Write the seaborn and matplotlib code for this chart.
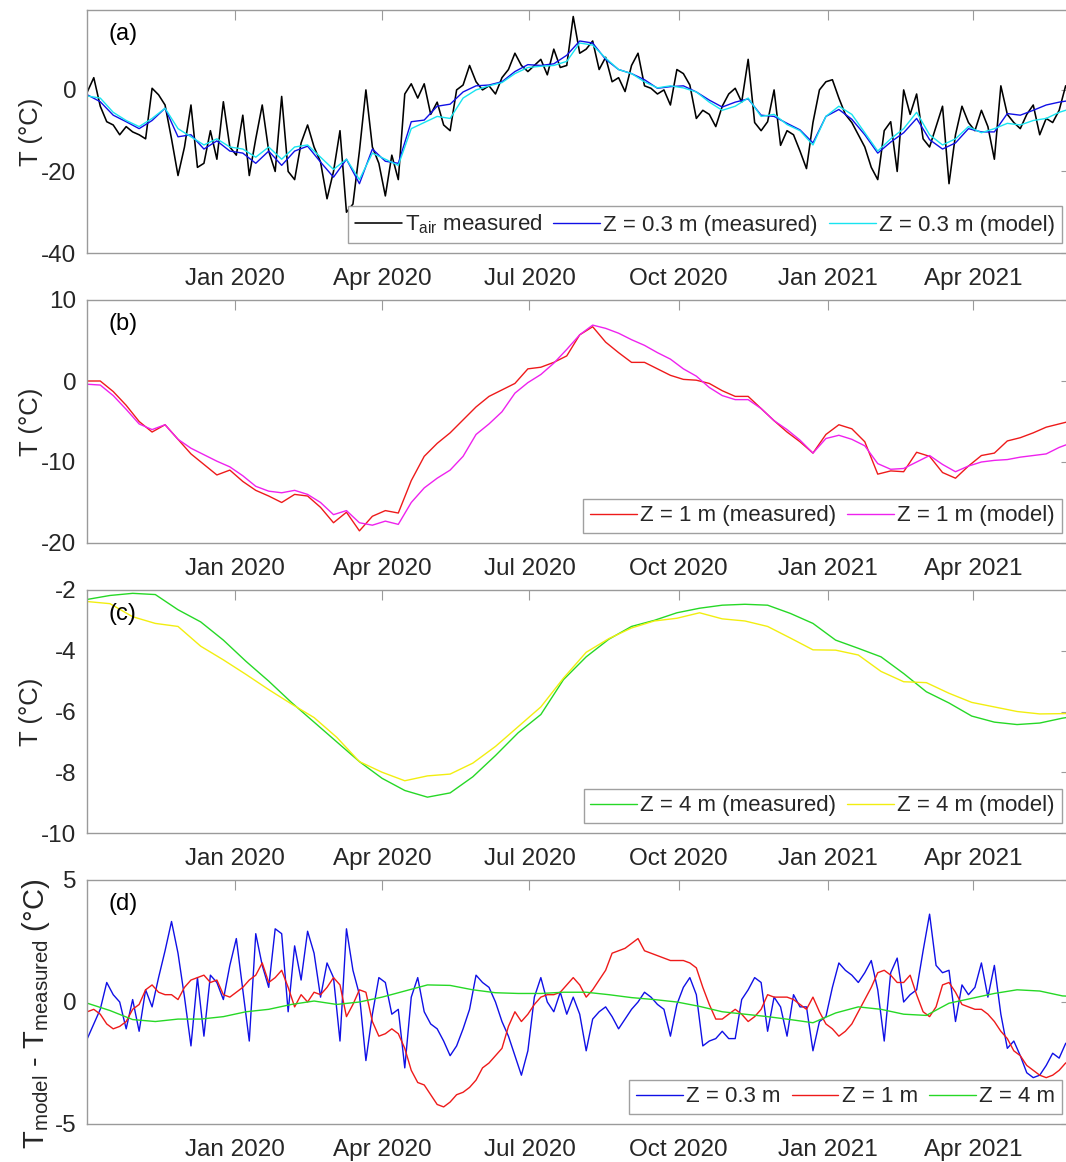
import matplotlib
matplotlib.use("Agg")
import matplotlib.pyplot as plt
import matplotlib.dates as mdates
import seaborn as sns
import pandas as pd

# ---- data (start 2019-10-02) ----
START = "2019-10-02"

# (a) air temperature, 4-day steps
t_air = [-0.5, 3.0, -4, -7.8, -8.6, -11, -9, -10.3, -11, -12, 0.4, -1.2, -3.7, -12, -21, -14,
         -3.7, -19, -18, -10, -17, -2.9, -14, -16, -6.2, -21, -12, -3.7, -15, -20, -1.6, -20,
         -22, -13, -8.6, -14, -17.7, -26.7, -20, -10, -30, -28, -15, 0, -14, -18, -26, -16,
         -22, -1, 1.5, -2, 1.5, -6, -3, -8.6, -10, 0, 1.2, 6, 2, 0, 1, -1, 3, 5,
         9, 6, 4.5, 6, 7.5, 3.7, 10, 5.5, 6, 18, 9, 10, 12, 5, 8, 2,
         3, -0.4, 6, 9, 1, 0.4, -1, 0, -3.7, 5, 4, 1.2, -7, -5, -6, -9,
         -4, -1, 0.4, -3, 7.5, -8, -10, -7.8, 0, -13.6, -10, -11, -15, -19.3, -8, 0,
         2, 2.5, -2, -6, -8, -11, -14, -19, -22, -10, -7.8, -20, 0, -6, -1, -12,
         -14, -9, -4, -23, -11, -4, -8, -10, -5, -9, -17, 1, -6, -8, -9.5, -6,
         -3.7, -11, -7, -8, -5, 1, -2]

# (a) 0.3 m, 8-day steps
t03_meas = [-1.2, -2.9, -6.2, -7.8, -9.5, -7.5, -4.5, -11.5, -11, -14.5, -12.5, -15, -15.5, -18,
            -15, -18.5, -15, -13.8, -17.7, -21.4, -17, -23, -14.5, -17.5, -18, -7.8, -7.4, -4.0,
            -3.5, -0.5, 1.0, 1.2, 2.0, 4.5, 6.2, 6.0, 6.4, 8.5, 12.0, 11.5, 7.5, 5.0, 4.0, 2.5,
            0.4, 0.8, 1.0, -0.5, -2.5, -4.2, -3.0, -2.2, -6.2, -6.5, -8.2, -9.8, -13.0, -6.5,
            -4.8, -7.2, -11.0, -15.5, -12.8, -10.5, -7.0, -12.2, -14.5, -13.0, -9.5, -10.3,
            -10.3, -5.8, -6.2, -5.0, -3.7, -3.0, -2.5]
t03_model = [-1.5, -2.0, -5.5, -7.5, -9.0, -7.0, -4.5, -9.5, -11.5, -13.5, -12.0, -14.0, -14.5,
             -16.5, -14.0, -17.0, -14.0, -13.5, -16.5, -19.5, -17, -22, -15.5, -17, -18.5, -9.5,
             -8.0, -6.5, -7.0, -2.0, 0.0, 1.0, 1.8, 4.0, 5.5, 5.8, 6.0, 7.0, 11.5, 11.0, 7.8,
             5.0, 4.0, 2.0, 0.5, 1.0, 0.5, -0.5, -3.0, -5.0, -4.0, -2.0, -6.5, -6.0, -8.5,
             -10.0, -13.5, -6.5, -4.0, -6.0, -10.5, -15.0, -12.0, -9.5, -5.5, -11.0, -13.5,
             -12.0, -9.0, -10.5, -9.5, -8.2, -8.6, -7.5, -7.0, -5.5, -4.5]

# (b) 1 m, 8-day steps
t1_meas = [0.0, 0.0, -1.3, -3.0, -5.0, -6.3, -5.4, -7.2, -9.0, -10.3, -11.6, -11.0, -12.4, -13.5,
           -14.2, -15.0, -14.0, -14.2, -15.6, -17.5, -16.2, -18.5, -16.7, -16.0, -16.3, -12.3,
           -9.3, -7.7, -6.4, -4.8, -3.2, -1.9, -1.1, -0.3, 1.5, 1.7, 2.3, 3.1, 5.7, 6.7, 4.8,
           3.5, 2.3, 2.3, 1.5, 0.7, 0.2, 0.1, -0.3, -1.2, -1.9, -1.9, -3.4, -4.9, -6.3, -7.5,
           -8.9, -6.6, -5.4, -5.9, -7.5, -11.5, -11.1, -11.2, -8.8, -9.3, -11.3, -12.0, -10.5,
           -9.2, -8.9, -7.4, -7.0, -6.4, -5.7, -5.3, -4.9]
t1_model = [-0.4, -0.5, -1.8, -3.5, -5.3, -6.0, -5.4, -7.2, -8.3, -9.1, -9.9, -10.6, -11.7, -13.0,
            -13.6, -13.8, -13.5, -14.0, -15.0, -16.5, -16.0, -17.5, -17.8, -17.3, -17.7, -15.0,
            -13.2, -12.0, -11.0, -9.3, -6.6, -5.3, -3.8, -1.5, -0.2, 0.8, 2.2, 3.9, 5.7, 6.9,
            6.5, 5.9, 5.1, 4.4, 3.5, 2.7, 1.5, 0.6, -0.8, -1.8, -2.3, -2.3, -3.4, -4.9, -6.0,
            -7.3, -8.9, -7.1, -6.7, -7.2, -8.0, -10.2, -10.9, -10.8, -10.0, -9.2, -10.3, -11.2,
            -10.5, -10.0, -9.8, -9.7, -9.4, -9.2, -9.0, -8.2, -7.6]

# (c) 4 m, 14-day steps
t4_meas = [-2.31, -2.18, -2.11, -2.15, -2.65, -3.05, -3.65, -4.35, -5.0, -5.7, -6.35, -7.0, -7.65,
           -8.2, -8.6, -8.82, -8.68, -8.15, -7.45, -6.7, -6.1, -4.95, -4.2, -3.62, -3.2, -3.0,
           -2.75, -2.6, -2.5, -2.47, -2.5, -2.77, -3.1, -3.65, -3.92, -4.2, -4.75, -5.35, -5.72,
           -6.15, -6.35, -6.43, -6.38, -6.22, -6.1]
t4_model = [-2.38, -2.45, -2.88, -3.1, -3.2, -3.85, -4.3, -4.78, -5.28, -5.75, -6.2, -6.85, -7.65,
            -8.0, -8.28, -8.12, -8.06, -7.7, -7.15, -6.5, -5.85, -4.9, -4.05, -3.6, -3.25, -3.02,
            -2.93, -2.75, -2.95, -3.02, -3.2, -3.58, -3.97, -3.98, -4.14, -4.68, -5.02, -5.05,
            -5.4, -5.7, -5.85, -6.0, -6.08, -6.07, -6.05]

# (d) model - measured
d03 = [-1.5, -0.9, -0.3, 0.8, 0.3, 0, -1.1, 0.1, -1.2, 0.5, -0.2, 1.0, 2.1, 3.3, 2.0, 0.2,
       -1.8, 1.0, -1.4, 1.1, 0.8, 0.1, 1.5, 2.6, 0.5, -1.6, 2.8, 1.5, 0.6, 3.0, 2.8, -0.4,
       2.3, 0.9, 2.9, 2.0, 0.2, 1.6, 1.0, -1.6, 3.0, 1.3, 0.3, -2.4, -0.5, 1.0, 0.8, -0.5,
       -0.3, -2.7, 0.2, 1.0, -0.4, -0.9, -1.1, -1.6, -2.2, -1.8, -1.1, -0.3, 1.1, 0.8, 0.6, 0,
       -0.8, -1.4, -2.2, -3.0, -2.0, 0.2, 1.0, 0, -0.4, 0.4, -0.5, 0.2, -0.5, -2.0, -0.7, -0.4,
       -0.2, -0.6, -1.1, -0.7, -0.3, 0, 0.4, 0.2, -0.1, -0.3, -1.4, -0.1, 0.6, 1.0, 0.3, -1.8,
       -1.6, -1.5, -1.2, -1.5, -1.5, 0.1, 0.5, 1.0, 0.8, -1.2, 0.2, -0.2, -1.4, 0.3, -0.2, -0.2,
       -2.0, -0.8, -0.6, 0.6, 1.6, 1.3, 1.1, 0.8, 1.2, 1.7, 0.5, -1.6, 1.2, 1.8, 0, 0.3,
       0.5, 2.1, 3.6, 1.5, 1.2, 1.3, -0.8, 0.7, 0.3, 0.6, 1.6, 0.2, 1.5, -0.5, -1.9, -1.6,
       -2.2, -2.9, -3.1, -3.0, -2.6, -2.1, -2.3, -1.7, -1.5]
d1 = [-0.4, -0.3, -0.5, -0.9, -1.1, -1.0, -0.8, -0.3, -0.1, 0.5, 0.7, 0.4, 0.3, 0.3, 0.1, 0.6,
      0.9, 1.0, 1.1, 0.8, 0.9, 0.3, 0.2, 0.4, 0.6, 0.9, 1.1, 1.6, 0.8, 1.0, 1.3, 0.6,
      -0.2, 0.3, 0.0, 0.4, 0.3, 0.6, 1.0, 0.7, -0.6, -0.1, 0.5, 0.4, -0.8, -1.4, -1.3, -1.1,
      -1.3, -1.9, -2.8, -3.3, -3.4, -3.8, -4.2, -4.3, -4.1, -3.8, -3.7, -3.5, -3.2, -2.7, -2.5,
      -2.2, -1.9, -1.0, -0.4, -0.8, -0.5, -0.1, 0.2, 0.3, 0.3, 0.4, 0.7, 1.0, 0.7, 0.2, 0.5,
      0.9, 1.3, 2.0, 2.1, 2.2, 2.4, 2.6, 2.1, 2.0, 1.9, 1.8, 1.7, 1.7, 1.7, 1.6, 1.4, 0.6,
      -0.1, -0.7, -0.7, -0.5, -0.3, -0.5, -0.8, -0.6, -0.3, 0.3, 0.2, 0.2, 0.2, 0.1, -0.1,
      -0.3, 0.2, -0.4, -0.9, -1.1, -1.4, -1.2, -0.9, -0.4, 0.1, 0.6, 1.2, 1.3, 1.1, 0.8, 0.8,
      1.1, 0.3, -0.4, -0.6, -0.2, 0.7, 0.8, 0.4, -0.1, -0.2, -0.3, -0.3, -0.5, -0.8, -1.2,
      -1.5, -2.0, -2.2, -2.6, -2.8, -3.0, -3.1, -3.0, -2.8, -2.5, -2.4]
d4 = [-0.05, -0.35, -0.72, -0.8, -0.7, -0.7, -0.6, -0.4, -0.3, -0.1, 0.04, -0.1, 0.0, 0.2, 0.45,
      0.7, 0.68, 0.5, 0.38, 0.35, 0.35, 0.4, 0.4, 0.3, 0.18, 0.1, 0.0, -0.18, -0.4, -0.5, -0.6,
      -0.72, -0.85, -0.45, -0.2, -0.3, -0.5, -0.55, -0.05, 0.15, 0.35, 0.5, 0.45, 0.25, 0.2]


def series(vals, step):
    return pd.DataFrame({"date": pd.date_range(START, periods=len(vals), freq=f"{step}D"),
                         "T": vals})


sns.set_theme(style="white")
plt.rcParams["font.family"] = ["Liberation Sans", "DejaVu Sans"]
plt.rcParams["mathtext.fontset"] = "custom"
plt.rcParams["mathtext.rm"] = "Liberation Sans"
plt.rcParams["mathtext.it"] = "Liberation Sans:italic"
plt.rcParams["axes.unicode_minus"] = False

W, H = 1066, 1162
fig = plt.figure(figsize=(W / 100, H / 100), dpi=100)
left, width = 87.3 / W, 983.2 / W
tops = [10, 300, 590, 880]
heights = [243, 243, 243, 244]

spine_c = "#9a9a9a"
text_c = "#262626"

panels = [
    dict(tag="(a)", ylim=(-40, 19.6), yticks=[-40, -20, 0],
         lines=[(t_air, 4, "#000000", "$\\mathrm{T_{air}}$ measured", 1.15),
                (t03_meas, 8, "#1010e6", "Z = 0.3 m (measured)", 1.0),
                (t03_model, 8, "#18e4f0", "Z = 0.3 m (model)", 1.0)]),
    dict(tag="(b)", ylim=(-20, 10), yticks=[-20, -10, 0, 10],
         lines=[(t1_meas, 8, "#ee1a1a", "Z = 1 m (measured)", 1.0),
                (t1_model, 8, "#ee22ee", "Z = 1 m (model)", 1.0)]),
    dict(tag="(c)", ylim=(-10, -2), yticks=[-10, -8, -6, -4, -2],
         lines=[(t4_meas, 14, "#26d826", "Z = 4 m (measured)", 1.0),
                (t4_model, 14, "#f2ee10", "Z = 4 m (model)", 1.0)]),
    dict(tag="(d)", ylim=(-5, 5), yticks=[-5, 0, 5],
         lines=[(d03, 4, "#1010e6", "Z = 0.3 m", 1.0),
                (d1, 4, "#ee1a1a", "Z = 1 m", 1.0),
                (d4, 14, "#26d826", "Z = 4 m", 1.0)]),
]

for k, p in enumerate(panels):
    bottom = 1 - (tops[k] + heights[k]) / H
    ax = fig.add_axes([left, bottom, width, heights[k] / H])
    for vals, step, col, lab, lw in p["lines"]:
        sns.lineplot(data=series(vals, step), x="date", y="T", ax=ax, color=col,
                     linewidth=lw, label=lab)
    ax.set_xlim(pd.Timestamp(START), pd.Timestamp("2021-05-31"))
    ax.set_ylim(*p["ylim"])
    ax.set_yticks(p["yticks"])
    ax.xaxis.set_major_locator(mdates.MonthLocator(bymonth=[1, 4, 7, 10]))
    ax.xaxis.set_major_formatter(mdates.DateFormatter("%b %Y"))
    ax.set_xlabel("")
    ax.tick_params(direction="in", length=7, width=0.8, color=spine_c, labelcolor=text_c,
                   labelsize=17.5, top=True, right=True)
    ax.tick_params(axis="x", pad=11)
    ax.tick_params(axis="y", pad=8)
    for s in ax.spines.values():
        s.set_color(spine_c)
        s.set_linewidth(1.0)
    ax.text(0.022, 0.9, p["tag"], transform=ax.transAxes, fontsize=17, color="black",
            va="center", ha="left")
    leg = ax.legend(loc="lower right", bbox_to_anchor=(0.991, 0.041), ncol=len(p["lines"]),
                    fontsize=16, frameon=True, fancybox=False, framealpha=1,
                    edgecolor="#a0a0a0", handlelength=2.1, handletextpad=0.15,
                    columnspacing=0.5, borderpad=0.3, borderaxespad=0)
    leg.get_frame().set_linewidth(1.0)
    for t in leg.get_texts():
        t.set_color(text_c)
    if k < 3:
        ax.set_ylabel("T (°C)", fontsize=18.5, color=text_c)
        ax.yaxis.set_label_coords(-0.045, 0.5)
    else:
        ax.set_ylabel("$\\mathrm{T_{model}}$ - $\\mathrm{T_{measured}}$ (°C)",
                      fontsize=21, color=text_c)
        ax.yaxis.set_label_coords(-0.036, 0.45)

fig.savefig("out.png", dpi=100)
